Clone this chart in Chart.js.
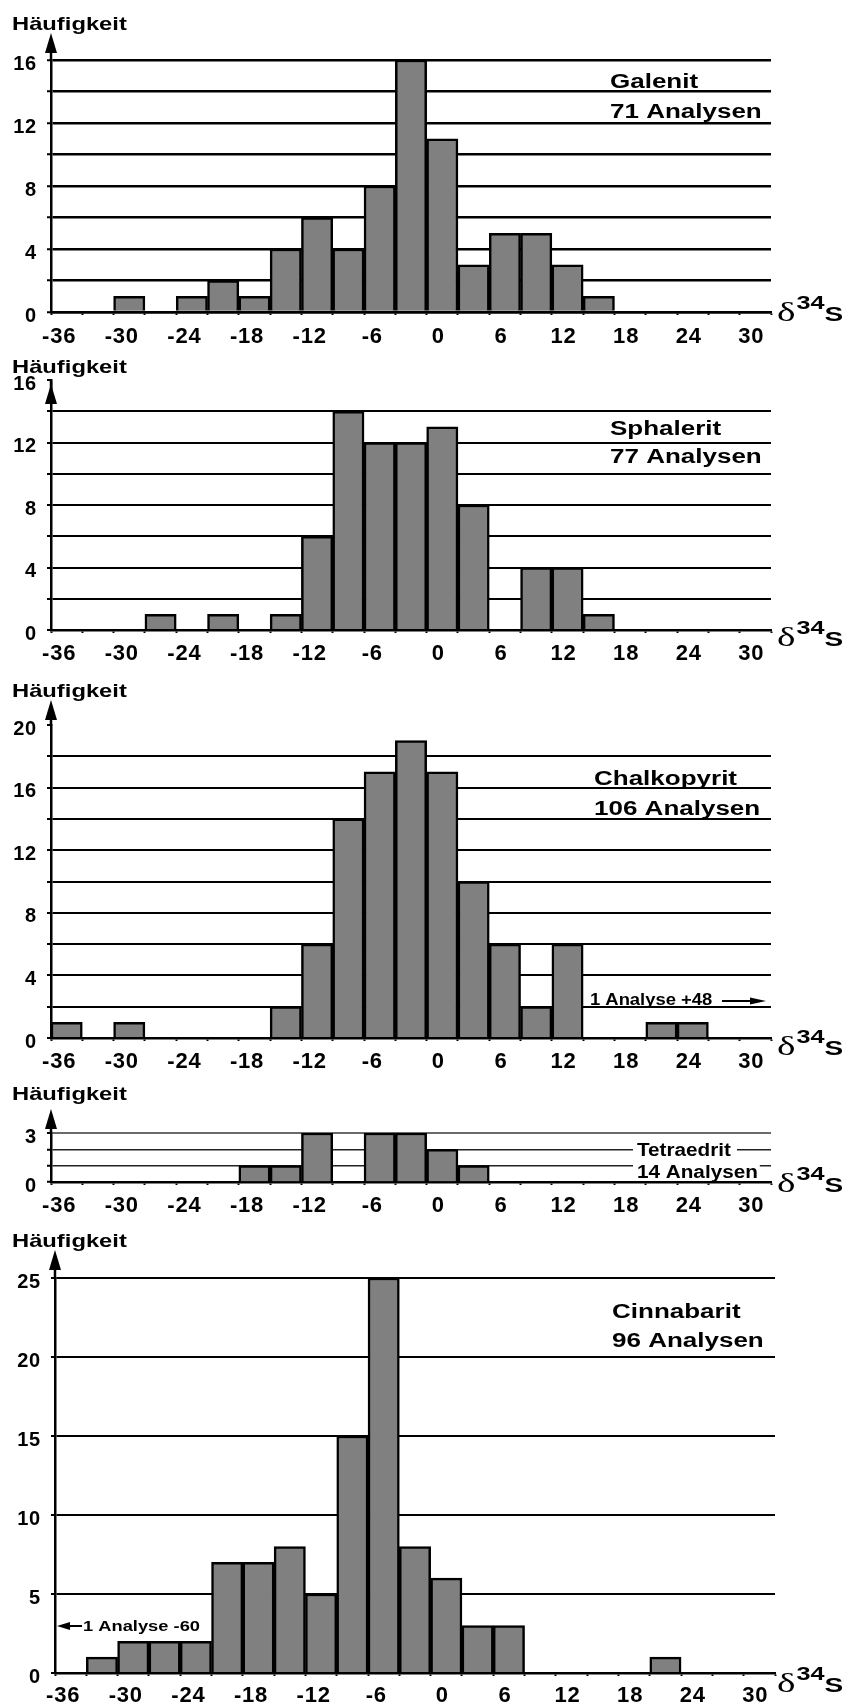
<!DOCTYPE html>
<html>
<head>
<meta charset="utf-8">
<script src="https://cdn.jsdelivr.net/npm/chart.js@4.4.1/dist/chart.umd.min.js"></script>
<style>
  body { margin: 0; background: #fff; }
  #wrap { position: relative; width: 847px; height: 1703px; }
  canvas { position: absolute; left: 0; }
</style>
</head>
<body>
<div id="wrap">
  <canvas id="galenit"></canvas>
  <canvas id="sphalerit"></canvas>
  <canvas id="chalkopyrit"></canvas>
  <canvas id="tetraedrit"></canvas>
  <canvas id="cinnabarit"></canvas>
</div>
<script>
// delta34S classes (centre of each 3 permil bin)
const bins = [-36, -33, -30, -27, -24, -21, -18, -15, -12, -9, -6, -3, 0, 3, 6, 9, 12, 15, 18, 21, 24, 27, 30];
const xTicks = [-36, -30, -24, -18, -12, -6, 0, 6, 12, 18, 24, 30];

// Häufigkeit per bin
const galenit     = [0, 0, 1, 0, 1, 2, 1, 4, 6, 4, 8, 16, 11, 3, 5, 5, 3, 1, 0, 0, 0, 0, 0];
const sphalerit   = [0, 0, 0, 1, 0, 1, 0, 1, 6, 14, 12, 12, 13, 8, 0, 4, 4, 1, 0, 0, 0, 0, 0];
const chalkopyrit = [1, 0, 1, 0, 0, 0, 0, 2, 6, 14, 17, 19, 17, 10, 6, 2, 6, 0, 0, 1, 1, 0, 0];
const tetraedrit  = [0, 0, 0, 0, 0, 0, 1, 1, 3, 0, 3, 3, 2, 1, 0, 0, 0, 0, 0, 0, 0, 0, 0];
const cinnabarit  = [0, 1, 2, 2, 2, 7, 7, 8, 5, 15, 25, 8, 6, 3, 3, 0, 0, 0, 0, 1, 0, 0, 0];

const galenitY = [0, 4, 8, 12, 16];
const sphaleritY = [0, 4, 8, 12, 16];
const chalkopyritY = [0, 4, 8, 12, 16, 20];
const tetraedritY = [0, 3];
const cinnabaritY = [0, 5, 10, 15, 20, 25];

const FONT = '"Liberation Sans", Arial, sans-serif';

// page layout of the five panels (absolute page coordinates)
const panels = [
  { id: 'galenit', data: galenit, yLabels: galenitY, top: 0, height: 350,
    left: 51, right: 771, chartTop: 60, chartBottom: 312, max: 16, step: 2, hideAt: null,
    gridWidth: 2.5, titleY: 30, arrowTip: 33, deltaDy: 9, xPad: 9,
    name: ['Galenit', '71 Analysen'], nameX: 610, nameY: [88, 118] },
  { id: 'sphalerit', data: sphalerit, yLabels: sphaleritY, top: 350, height: 318,
    left: 51, right: 771, chartTop: 380, chartBottom: 630, max: 16, step: 2, hideAt: 16,
    gridWidth: 2, titleY: 373, arrowTip: 384, deltaDy: 16, xPad: 8,
    name: ['Sphalerit', '77 Analysen'], nameX: 610, nameY: [435, 463] },
  { id: 'chalkopyrit', data: chalkopyrit, yLabels: chalkopyritY, top: 668, height: 410,
    left: 51, right: 771, chartTop: 725, chartBottom: 1038, max: 20, step: 2, hideAt: 20,
    gridWidth: 2, titleY: 697, arrowTip: 700, deltaDy: 17, xPad: 8,
    name: ['Chalkopyrit', '106 Analysen'], nameX: 594, nameY: [785, 815] },
  { id: 'tetraedrit', data: tetraedrit, yLabels: tetraedritY, top: 1078, height: 137,
    left: 51, right: 771, chartTop: 1133, chartBottom: 1182, max: 3, step: 1, hideAt: null,
    gridWidth: 1.5, titleY: 1100, arrowTip: 1109, deltaDy: 10, xPad: 8,
    name: ['Tetraedrit', '14 Analysen'], nameX: 637, nameY: [1156, 1178], boxed: true },
  { id: 'cinnabarit', data: cinnabarit, yLabels: cinnabaritY, top: 1215, height: 488,
    left: 55, right: 775, chartTop: 1278, chartBottom: 1673, max: 25, step: 5, hideAt: null,
    gridWidth: 2, titleY: 1247, arrowTip: 1250, deltaDy: 19, xPad: 7,
    name: ['Cinnabarit', '96 Analysen'], nameX: 612, nameY: [1318, 1347] }
];

function arrowHead(ctx, tipX, tipY, dir, len, half) {
  ctx.beginPath();
  ctx.moveTo(tipX, tipY);
  if (dir === 'up') {
    ctx.lineTo(tipX - half, tipY + len);
    ctx.lineTo(tipX + half, tipY + len);
  } else if (dir === 'left') {
    ctx.lineTo(tipX + len, tipY - half);
    ctx.lineTo(tipX + len, tipY + half);
  } else {
    ctx.lineTo(tipX - len, tipY - half);
    ctx.lineTo(tipX - len, tipY + half);
  }
  ctx.closePath();
  ctx.fill();
}

// the lettering of the original is a wide, heavy grotesque: draw it stretched
function wideText(ctx, text, x, y, sx) {
  ctx.save();
  ctx.translate(x, y);
  ctx.scale(sx, 1);
  ctx.fillText(text, 0, 0);
  ctx.restore();
  return ctx.measureText(text).width * sx;
}

function makeDeco(p) {
  return {
    id: 'deco',
    beforeDraw(chart) {
      chart.ctx.save();
      chart.ctx.letterSpacing = '0.8px';
    },
    afterDraw(chart) {
      const ctx = chart.ctx;
      ctx.restore();
      const a = chart.chartArea;
      const oy = p.top;
      ctx.save();
      ctx.fillStyle = '#000';
      ctx.strokeStyle = '#000';
      ctx.textAlign = 'left';
      ctx.textBaseline = 'alphabetic';

      // y axis arrow
      const tip = p.arrowTip - oy;
      ctx.lineWidth = 2.5;
      ctx.beginPath();
      ctx.moveTo(a.left, a.top + 1);
      ctx.lineTo(a.left, tip + 12);
      ctx.stroke();
      arrowHead(ctx, a.left, tip, 'up', 20, 6);

      // axis title
      ctx.font = 'bold 19px ' + FONT;
      wideText(ctx, 'Häufigkeit', 12, p.titleY - oy, 1.25);

      // mineral name + number of analyses
      if (p.boxed) {
        ctx.font = 'bold 18px ' + FONT;
        const sx = 1.15;
        const w1 = ctx.measureText(p.name[0]).width * sx;
        const w2 = ctx.measureText(p.name[1]).width * sx;
        ctx.fillStyle = '#fff';
        ctx.fillRect(p.nameX - 4, p.nameY[0] - oy - 15, w1 + 10, 18);
        ctx.fillRect(p.nameX - 4, p.nameY[1] - oy - 15, w2 + 6, 17);
        ctx.fillStyle = '#000';
        wideText(ctx, p.name[0], p.nameX, p.nameY[0] - oy, sx);
        wideText(ctx, p.name[1], p.nameX, p.nameY[1] - oy, sx);
      } else {
        ctx.font = 'bold 20px ' + FONT;
        wideText(ctx, p.name[0], p.nameX, p.nameY[0] - oy, 1.3);
        wideText(ctx, p.name[1], p.nameX, p.nameY[1] - oy, 1.3);
      }

      // delta 34 S
      const base = a.bottom + p.deltaDy;
      const sd = 1.4;
      let x = 777;
      ctx.font = '28px "Liberation Serif", "DejaVu Serif", serif';
      x += wideText(ctx, 'δ', x, base, sd) + 1;
      ctx.font = 'bold 18px ' + FONT;
      x += wideText(ctx, '34', x, base - 12, sd);
      ctx.font = 'bold 20px ' + FONT;
      wideText(ctx, 'S', x, base, sd);

      // outliers beyond the scale
      if (p.id === 'chalkopyrit') {
        ctx.font = 'bold 16px ' + FONT;
        wideText(ctx, '1 Analyse +48', 590, 1005 - oy, 1.15);
        ctx.lineWidth = 2;
        ctx.beginPath();
        ctx.moveTo(722, 1001 - oy);
        ctx.lineTo(752, 1001 - oy);
        ctx.stroke();
        arrowHead(ctx, 766, 1001 - oy, 'right', 16, 3.5);
      }
      if (p.id === 'cinnabarit') {
        ctx.lineWidth = 2;
        ctx.beginPath();
        ctx.moveTo(68, 1626 - oy);
        ctx.lineTo(82, 1626 - oy);
        ctx.stroke();
        arrowHead(ctx, 57, 1626 - oy, 'left', 13, 4);
        ctx.font = 'bold 15px ' + FONT;
        wideText(ctx, '1 Analyse -60', 83, 1631 - oy, 1.22);
      }
      ctx.restore();
    }
  };
}

function makeChart(p) {
  const canvas = document.getElementById(p.id);
  canvas.width = 847;
  canvas.height = p.height;
  canvas.style.top = p.top + 'px';
  canvas.style.width = '847px';
  canvas.style.height = p.height + 'px';

  new Chart(canvas, {
    type: 'bar',
    data: {
      labels: bins,
      datasets: [{
        data: p.data,
        backgroundColor: '#808080',
        borderColor: '#000',
        borderWidth: 2.5,
        barPercentage: 1,
        categoryPercentage: 1
      }]
    },
    options: {
      responsive: false,
      animation: false,
      devicePixelRatio: 1,
      layout: { padding: { top: p.chartTop - p.top, right: 847 - p.right, bottom: 0, left: 0 } },
      plugins: { legend: { display: false }, tooltip: { enabled: false } },
      scales: {
        x: {
          offset: true,
          grid: { display: true, offset: true, drawOnChartArea: false, drawTicks: true,
                  tickLength: 3, tickColor: '#000', tickWidth: 2 },
          border: { display: true, color: '#000', width: 2.5 },
          ticks: {
            autoSkip: false, maxRotation: 0, minRotation: 0, padding: p.xPad, labelOffset: -4,
            color: '#000', font: { family: FONT, size: 22, weight: 'bold' },
            callback: (v, i) => xTicks.includes(bins[i]) ? (bins[i] < 0 ? bins[i] + ' ' : String(bins[i])) : ''
          },
          afterFit: s => { s.height = p.top + p.height - p.chartBottom; }
        },
        y: {
          min: 0, max: p.max,
          grid: {
            color: c => {
              if (c.tick && c.tick.value === p.hideAt) return 'rgba(0,0,0,0)';
              if (p.id === 'tetraedrit' && c.tick && c.tick.value === 3) return '#6a6a6a';
              return p.id === 'tetraedrit' ? '#222' : '#000';
            },
            lineWidth: c => (p.id === 'tetraedrit' && c.tick && c.tick.value === 3) ? 2 : p.gridWidth,
            tickColor: '#000', tickLength: 4, tickWidth: 2
          },
          border: { display: true, color: '#000', width: 2.5 },
          ticks: {
            autoSkip: false, stepSize: p.step, padding: 10, labelOffset: 4, color: '#000',
            font: { family: FONT, size: 20, weight: 'bold' },
            callback: v => p.yLabels.includes(v) ? String(v) : ''
          },
          afterFit: s => { s.width = p.left; }
        }
      }
    },
    plugins: [makeDeco(p)]
  });
}

panels.forEach(makeChart);
</script>
</body>
</html>
